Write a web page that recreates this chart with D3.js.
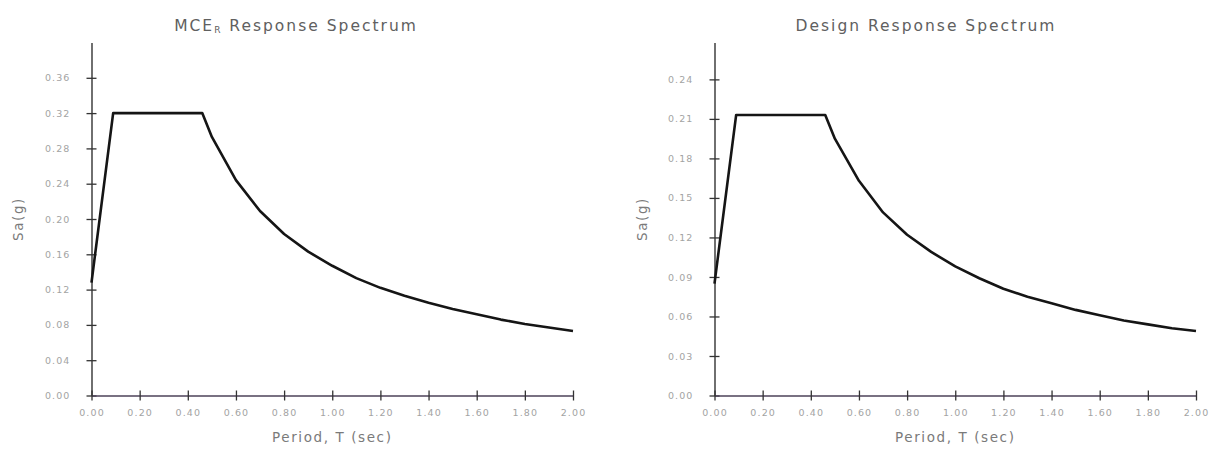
<!DOCTYPE html>
<html lang="en">
<head>
  <meta charset="UTF-8" />
  <title>Response Spectra</title>
  <script src="https://d3js.org/d3.v7.min.js"></script>
  <style>
    body { margin: 0; background: #fff; }
    svg text { font-family: "DejaVu Sans", "Liberation Sans", sans-serif; }
    .tick text { fill: #a3a3a3; font-size: 9.5px; letter-spacing: 1.1px; }
    .tick line { stroke: #333; stroke-width: 1.3px; }
    .title { fill: #606060; font-size: 15.5px; letter-spacing: 2px; }
    .axis-label { fill: #7a7a7a; font-size: 13.5px; letter-spacing: 1.6px; }
  </style>
</head>
<body>
  <svg width="1214" height="450"></svg>

  <script>
    // period T (sec)
    const periodT = [0, 0.09, 0.46, 0.5, 0.6, 0.7, 0.8, 0.9, 1.0, 1.1, 1.2, 1.3, 1.4, 1.5, 1.6, 1.7, 1.8, 1.9, 2.0];
    const mceSa = [0.128, 0.32, 0.32, 0.293, 0.244, 0.209, 0.183, 0.163, 0.147, 0.133, 0.122, 0.113, 0.105, 0.098, 0.092, 0.086, 0.081, 0.077, 0.073];
    const designSa = [0.085, 0.213, 0.213, 0.195, 0.163, 0.139, 0.122, 0.109, 0.098, 0.089, 0.081, 0.075, 0.070, 0.065, 0.061, 0.057, 0.054, 0.051, 0.049];

    const xTicks = [0, 0.2, 0.4, 0.6, 0.8, 1.0, 1.2, 1.4, 1.6, 1.8, 2.0];
    const mceYTicks = [0, 0.04, 0.08, 0.12, 0.16, 0.20, 0.24, 0.28, 0.32, 0.36];
    const designYTicks = [0, 0.03, 0.06, 0.09, 0.12, 0.15, 0.18, 0.21, 0.24];

    const svg = d3.select("svg");

    function drawPanel(opts) {
      const x = d3.scaleLinear().domain([0, 2]).range([opts.left, opts.left + 481.5]);
      const y = d3.scaleLinear().domain([0, opts.yMax]).range([395.5, 42.5]);
      const g = svg.append("g");

      // y axis (line drawn to top of domain)
      const yAxis = g.append("g")
        .attr("transform", `translate(${opts.left},0)`)
        .call(d3.axisLeft(y).tickValues(opts.yTicks).tickFormat(d3.format(".2f")).tickSizeOuter(0).tickPadding(15));
      yAxis.select(".domain").attr("stroke", "#333").attr("stroke-width", 1.4);
      yAxis.selectAll(".tick line").attr("x1", -5).attr("x2", 5);

      const xAxis = g.append("g")
        .attr("transform", "translate(0,395.5)")
        .call(d3.axisBottom(x).tickValues(xTicks).tickFormat(d3.format(".2f")).tickSizeOuter(0).tickPadding(8));
      xAxis.select(".domain").attr("stroke", "#4d4258").attr("stroke-width", 1.6);
      xAxis.selectAll(".tick line").attr("y1", -5).attr("y2", 5);

      const line = d3.line().x((d, i) => x(periodT[i])).y(d => y(d));
      g.append("path")
        .datum(opts.values)
        .attr("fill", "none")
        .attr("stroke", "#151515")
        .attr("stroke-width", 2.6)
        .attr("stroke-linejoin", "round")
        .attr("d", line);

      const t = g.append("text").attr("class", "title")
        .attr("x", opts.titleX).attr("y", 31).attr("text-anchor", "middle");
      opts.title(t);

      g.append("text").attr("class", "axis-label")
        .attr("x", (x(0) + x(2)) / 2).attr("y", 442).attr("text-anchor", "middle")
        .text("Period, T (sec)");

      g.append("text").attr("class", "axis-label")
        .attr("transform", `translate(${opts.labelX},219) rotate(-90)`)
        .attr("text-anchor", "middle")
        .text("Sa(g)");
    }

    drawPanel({
      left: 91.5, yMax: 0.4, yTicks: mceYTicks, values: mceSa,
      titleX: 296, labelX: 23,
      title: t => {
        t.append("tspan").text("MCE");
        t.append("tspan").attr("font-size", "9px").attr("dy", 2).text("R");
        t.append("tspan").attr("dy", -2).text(" Response Spectrum");
      }
    });

    drawPanel({
      left: 714.5, yMax: 0.268, yTicks: designYTicks, values: designSa,
      titleX: 926, labelX: 647,
      title: t => t.text("Design Response Spectrum")
    });
  </script>
</body>
</html>
